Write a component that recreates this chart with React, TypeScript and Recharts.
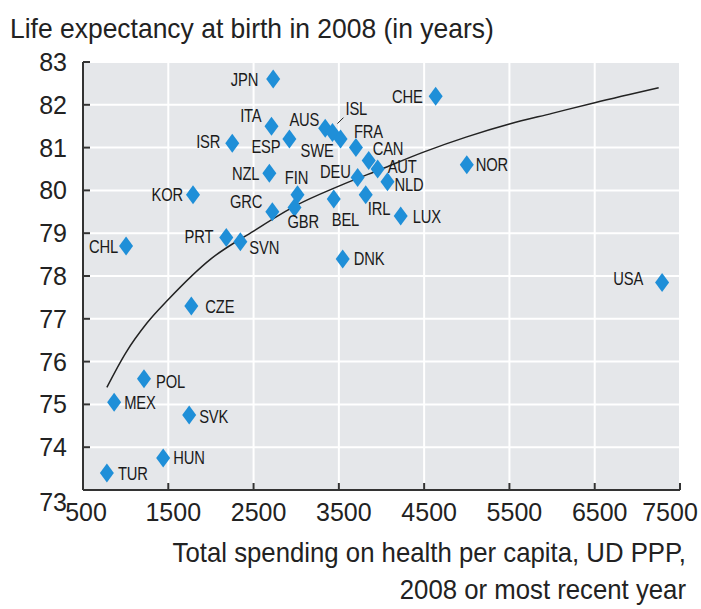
import { ScatterChart, Scatter, XAxis, YAxis, CartesianGrid } from 'recharts';

const countries = [
  'JPN', 'ITA', 'ISR', 'ESP', 'AUS', 'ISL', 'SWE', 'FRA', 'CAN', 'AUT', 'DEU',
  'NLD', 'IRL', 'BEL', 'LUX', 'NOR', 'CHE', 'DNK', 'USA', 'FIN', 'GBR', 'KOR',
  'NZL', 'GRC', 'PRT', 'SVN', 'CHL', 'CZE', 'POL', 'MEX', 'SVK', 'HUN', 'TUR',
];
const spending = [
  2730, 2710, 2250, 2920, 3340, 3425, 3520, 3700, 3850, 3955, 3720,
  4070, 3815, 3440, 4225, 5000, 4635, 3545, 7290, 3015, 2980, 1790,
  2685, 2720, 2180, 2345, 1005, 1770, 1215, 865, 1745, 1440, 780,
];
const lifeExpectancy = [
  82.6, 81.5, 81.1, 81.2, 81.45, 81.35, 81.2, 81.0, 80.7, 80.5, 80.3,
  80.2, 79.9, 79.8, 79.4, 80.6, 82.2, 78.4, 77.85, 79.9, 79.6, 79.9,
  80.4, 79.5, 78.9, 78.8, 78.7, 77.3, 75.6, 75.05, 74.75, 73.75, 73.4,
];

// trend curve
const trendSpending = [780, 1000, 1250, 1500, 2000, 2500, 3000, 3500, 4000, 4500, 5000, 5500, 6000, 6500, 7250];
const trendLife = [75.4, 76.2, 76.9, 77.45, 78.4, 79.05, 79.65, 80.1, 80.5, 80.9, 81.25, 81.55, 81.8, 82.05, 82.4];

const xTicks = [500, 1500, 2500, 3500, 4500, 5500, 6500, 7500];
const yTicks = [73, 74, 75, 76, 77, 78, 79, 80, 81, 82, 83];

// label offset from the marker: dx, dy, anchor
const labelPos: Record<string, [number, number, string]> = {
  JPN: [-15, 0, 'end'], ITA: [-10, -11, 'end'], ISR: [-12, -2, 'end'], ESP: [-9, 7, 'end'],
  AUS: [-6, -9, 'end'], ISL: [13, -24, 'start'], SWE: [-7, 11, 'end'], FRA: [-2, -16, 'start'],
  CAN: [4, -12, 'start'], AUT: [10, -3, 'start'], DEU: [-7, -6, 'end'], NLD: [7, 3, 'start'],
  IRL: [2, 14, 'start'], BEL: [-2, 20, 'start'], LUX: [12, 0, 'start'], NOR: [9, 0, 'start'],
  CHE: [-13, 0, 'end'], DNK: [11, 0, 'start'], USA: [-19, -4, 'end'], FIN: [-1, -17, 'middle'],
  GBR: [-7, 14, 'start'], KOR: [-10, 0, 'end'], NZL: [-10, 0, 'end'], GRC: [-10, -10, 'end'],
  PRT: [-13, -1, 'end'], SVN: [9, 6, 'start'], CHL: [-8, 0, 'end'], CZE: [14, 0, 'start'],
  POL: [12, 3, 'start'], MEX: [10, 0, 'start'], SVK: [10, 1, 'start'], HUN: [10, 0, 'start'],
  TUR: [11, 1, 'start'],
};

const points = countries.map((c, i) => ({ code: c, x: spending[i], y: lifeExpectancy[i] }));
const trend = trendSpending.map((x, i) => ({ x, y: trendLife[i] }));

const FONT = '"Liberation Sans", Arial, sans-serif';
const BLUE = '#1f8fd8';
const INK = '#222';

function CountryMark(props: any) {
  const { cx, cy, payload } = props;
  const [dx, dy, anchor] = labelPos[payload.code] || [10, 0, 'start'];
  return (
    <g>
      <polygon
        points={`${cx},${cy - 9.5} ${cx + 7},${cy} ${cx},${cy + 9.5} ${cx - 7},${cy}`}
        fill={BLUE}
      />
      {payload.code === 'ISL' && (
        <line x1={cx + 5} y1={cy - 9} x2={cx + 11} y2={cy - 15} stroke={INK} strokeWidth={1} />
      )}
      <text
        transform={`translate(${cx + dx},${cy + dy}) scale(0.82,1)`}
        textAnchor={anchor as any}
        dominantBaseline="central"
        fontFamily={FONT}
        fontSize={18}
        letterSpacing={-0.2}
        fill="#1a1a1a"
      >
        {payload.code}
      </text>
    </g>
  );
}

function YTick(props: any) {
  const { x, y, payload } = props;
  const low = payload.value === 73 ? 12 : 0;
  return (
    <g>
      <line x1={x} y1={y} x2={x + 7} y2={y} stroke="#333" strokeWidth={2} />
      <text x={x - 16} y={y + low + 9} textAnchor="end" fontFamily={FONT} fontSize={25} fill={INK}>
        {payload.value}
      </text>
    </g>
  );
}

function XTick(props: any) {
  const { x, y, payload } = props;
  const shift = payload.value === 7500 ? -10 : payload.value === 500 ? 3 : 5;
  return (
    <g>
      <line x1={x} y1={y} x2={x} y2={y - 7} stroke="#333" strokeWidth={2} />
      <text x={x + shift} y={y + 31} textAnchor="middle" fontFamily={FONT} fontSize={25} fill={INK}>
        {payload.value}
      </text>
    </g>
  );
}

export default function App() {
  return (
    <div style={{ position: 'absolute', left: 0, top: 0, width: 701, height: 609, background: '#fff' }}>
      <ScatterChart width={701} height={609} margin={{ top: 62, right: 21, bottom: 89, left: 23 }}>
        <CartesianGrid fill="#e5e7ea" stroke="#ffffff" strokeWidth={2} />
        <XAxis
          type="number"
          dataKey="x"
          domain={[500, 7500]}
          ticks={xTicks}
          height={30}
          tickSize={0}
          tickMargin={0}
          tick={<XTick />}
          axisLine={{ stroke: '#333', strokeWidth: 2 }}
          tickLine={false}
          allowDataOverflow
        />
        <YAxis
          type="number"
          dataKey="y"
          domain={[73, 83]}
          ticks={yTicks}
          width={60}
          tickSize={0}
          tickMargin={0}
          tick={<YTick />}
          axisLine={{ stroke: '#333', strokeWidth: 2 }}
          tickLine={false}
          allowDataOverflow
        />
        <Scatter
          data={trend}
          line={{ stroke: INK, strokeWidth: 1.5 }}
          lineJointType="monotoneX"
          shape={() => <g />}
          isAnimationActive={false}
        />
        <Scatter data={points} shape={<CountryMark />} isAnimationActive={false} />
        <text transform="translate(10,38) scale(0.945,1)" fontFamily={FONT} fontSize={28} fill={INK}>
          Life expectancy at birth in 2008 (in years)
        </text>
        <text transform="translate(686,562) scale(0.92,1)" textAnchor="end" fontFamily={FONT} fontSize={28} fill={INK}>
          Total spending on health per capita, UD PPP,
        </text>
        <text transform="translate(686,599) scale(0.92,1)" textAnchor="end" fontFamily={FONT} fontSize={28} fill={INK}>
          2008 or most recent year
        </text>
      </ScatterChart>
    </div>
  );
}
